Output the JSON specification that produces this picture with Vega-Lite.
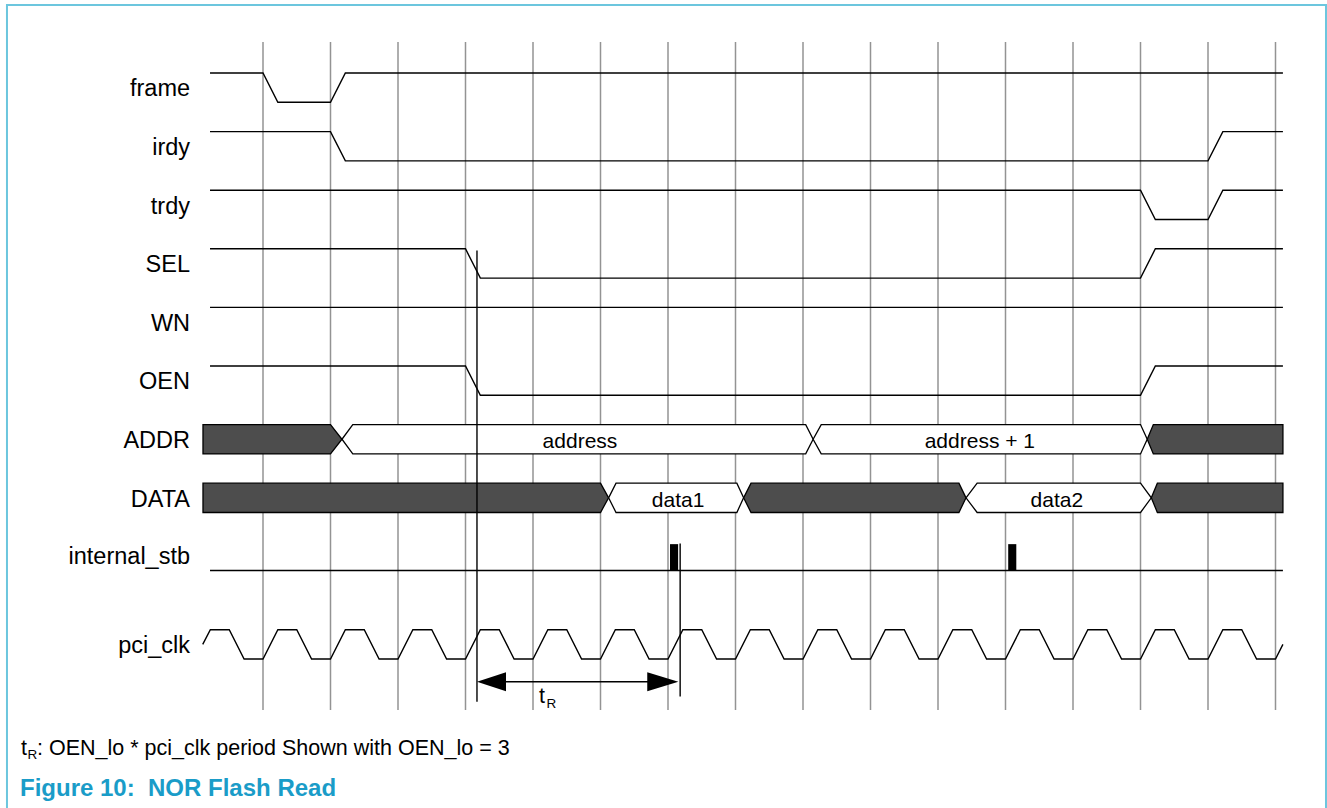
{
  "$schema": "https://vega.github.io/schema/vega-lite/v6.json",
  "width": 1327,
  "height": 808,
  "autosize": {"type": "fit", "contains": "padding"},
  "padding": 0,
  "background": "white",
  "config": {"view": {"stroke": null}, "text": {"font": "Liberation Sans", "color": "#000000"}},
  "encoding": {
    "x": {"field": "t", "type": "quantitative", "scale": {"domain": [-3.8963, 15.76296], "nice": false, "zero": false}, "axis": null},
    "y": {"field": "r", "type": "quantitative", "scale": {"domain": [-1.24573, 12.5427], "nice": false, "zero": false, "reverse": true}, "axis": null}
  },
  "layer": [
    {
      "data": {"values": [{"t": -3.793, "t2": 15.748, "r": -1.16, "r2": 12.7}]},
      "mark": {"type": "rect", "fill": "transparent", "stroke": "#6cc6de", "strokeWidth": 2, "clip": true},
      "encoding": {"x2": {"field": "t2"}, "y2": {"field": "r2"}}
    },
    {
      "data": {"values": [
        {"t": 0, "r": -0.53, "r2": 10.87}, {"t": 1, "r": -0.53, "r2": 10.87}, {"t": 2, "r": -0.53, "r2": 10.87}, {"t": 3, "r": -0.53, "r2": 10.87},
        {"t": 4, "r": -0.53, "r2": 10.87}, {"t": 5, "r": -0.53, "r2": 10.87}, {"t": 6, "r": -0.53, "r2": 10.87}, {"t": 7, "r": -0.53, "r2": 10.87},
        {"t": 8, "r": -0.53, "r2": 10.87}, {"t": 9, "r": -0.53, "r2": 10.87}, {"t": 10, "r": -0.53, "r2": 10.87}, {"t": 11, "r": -0.53, "r2": 10.87},
        {"t": 12, "r": -0.53, "r2": 10.87}, {"t": 13, "r": -0.53, "r2": 10.87}, {"t": 14, "r": -0.53, "r2": 10.87}, {"t": 15, "r": -0.53, "r2": 10.87}
      ]},
      "mark": {"type": "rule", "color": "#939393", "strokeWidth": 1.5},
      "encoding": {"y2": {"field": "r2"}}
    },
    {
      "data": {"values": [
        {"sig": "frame", "t": -0.785, "r": 0}, {"sig": "frame", "t": 0, "r": 0}, {"sig": "frame", "t": 0.22, "r": 0.5}, {"sig": "frame", "t": 1, "r": 0.5}, {"sig": "frame", "t": 1.22, "r": 0}, {"sig": "frame", "t": 15.11, "r": 0},
        {"sig": "irdy", "t": -0.785, "r": 1}, {"sig": "irdy", "t": 1, "r": 1}, {"sig": "irdy", "t": 1.22, "r": 1.5}, {"sig": "irdy", "t": 14, "r": 1.5}, {"sig": "irdy", "t": 14.22, "r": 1}, {"sig": "irdy", "t": 15.11, "r": 1},
        {"sig": "trdy", "t": -0.785, "r": 2}, {"sig": "trdy", "t": 13, "r": 2}, {"sig": "trdy", "t": 13.22, "r": 2.5}, {"sig": "trdy", "t": 14, "r": 2.5}, {"sig": "trdy", "t": 14.22, "r": 2}, {"sig": "trdy", "t": 15.11, "r": 2},
        {"sig": "SEL", "t": -0.785, "r": 3}, {"sig": "SEL", "t": 3, "r": 3}, {"sig": "SEL", "t": 3.22, "r": 3.5}, {"sig": "SEL", "t": 13, "r": 3.5}, {"sig": "SEL", "t": 13.22, "r": 3}, {"sig": "SEL", "t": 15.11, "r": 3},
        {"sig": "WN", "t": -0.785, "r": 4}, {"sig": "WN", "t": 15.11, "r": 4},
        {"sig": "OEN", "t": -0.785, "r": 5}, {"sig": "OEN", "t": 3, "r": 5}, {"sig": "OEN", "t": 3.22, "r": 5.5}, {"sig": "OEN", "t": 13, "r": 5.5}, {"sig": "OEN", "t": 13.22, "r": 5}, {"sig": "OEN", "t": 15.11, "r": 5},
        {"sig": "internal_stb", "t": -0.785, "r": 8.49}, {"sig": "internal_stb", "t": 15.11, "r": 8.49},
        {"sig": "pci_clk", "t": -0.893, "r": 9.75}, {"sig": "pci_clk", "t": -0.78, "r": 9.5}, {"sig": "pci_clk", "t": -0.5, "r": 9.5}, {"sig": "pci_clk", "t": -0.28, "r": 10}, {"sig": "pci_clk", "t": 0, "r": 10},
        {"sig": "pci_clk", "t": 0.22, "r": 9.5}, {"sig": "pci_clk", "t": 0.5, "r": 9.5}, {"sig": "pci_clk", "t": 0.72, "r": 10}, {"sig": "pci_clk", "t": 1, "r": 10},
        {"sig": "pci_clk", "t": 1.22, "r": 9.5}, {"sig": "pci_clk", "t": 1.5, "r": 9.5}, {"sig": "pci_clk", "t": 1.72, "r": 10}, {"sig": "pci_clk", "t": 2, "r": 10},
        {"sig": "pci_clk", "t": 2.22, "r": 9.5}, {"sig": "pci_clk", "t": 2.5, "r": 9.5}, {"sig": "pci_clk", "t": 2.72, "r": 10}, {"sig": "pci_clk", "t": 3, "r": 10},
        {"sig": "pci_clk", "t": 3.22, "r": 9.5}, {"sig": "pci_clk", "t": 3.5, "r": 9.5}, {"sig": "pci_clk", "t": 3.72, "r": 10}, {"sig": "pci_clk", "t": 4, "r": 10},
        {"sig": "pci_clk", "t": 4.22, "r": 9.5}, {"sig": "pci_clk", "t": 4.5, "r": 9.5}, {"sig": "pci_clk", "t": 4.72, "r": 10}, {"sig": "pci_clk", "t": 5, "r": 10},
        {"sig": "pci_clk", "t": 5.22, "r": 9.5}, {"sig": "pci_clk", "t": 5.5, "r": 9.5}, {"sig": "pci_clk", "t": 5.72, "r": 10}, {"sig": "pci_clk", "t": 6, "r": 10},
        {"sig": "pci_clk", "t": 6.22, "r": 9.5}, {"sig": "pci_clk", "t": 6.5, "r": 9.5}, {"sig": "pci_clk", "t": 6.72, "r": 10}, {"sig": "pci_clk", "t": 7, "r": 10},
        {"sig": "pci_clk", "t": 7.22, "r": 9.5}, {"sig": "pci_clk", "t": 7.5, "r": 9.5}, {"sig": "pci_clk", "t": 7.72, "r": 10}, {"sig": "pci_clk", "t": 8, "r": 10},
        {"sig": "pci_clk", "t": 8.22, "r": 9.5}, {"sig": "pci_clk", "t": 8.5, "r": 9.5}, {"sig": "pci_clk", "t": 8.72, "r": 10}, {"sig": "pci_clk", "t": 9, "r": 10},
        {"sig": "pci_clk", "t": 9.22, "r": 9.5}, {"sig": "pci_clk", "t": 9.5, "r": 9.5}, {"sig": "pci_clk", "t": 9.72, "r": 10}, {"sig": "pci_clk", "t": 10, "r": 10},
        {"sig": "pci_clk", "t": 10.22, "r": 9.5}, {"sig": "pci_clk", "t": 10.5, "r": 9.5}, {"sig": "pci_clk", "t": 10.72, "r": 10}, {"sig": "pci_clk", "t": 11, "r": 10},
        {"sig": "pci_clk", "t": 11.22, "r": 9.5}, {"sig": "pci_clk", "t": 11.5, "r": 9.5}, {"sig": "pci_clk", "t": 11.72, "r": 10}, {"sig": "pci_clk", "t": 12, "r": 10},
        {"sig": "pci_clk", "t": 12.22, "r": 9.5}, {"sig": "pci_clk", "t": 12.5, "r": 9.5}, {"sig": "pci_clk", "t": 12.72, "r": 10}, {"sig": "pci_clk", "t": 13, "r": 10},
        {"sig": "pci_clk", "t": 13.22, "r": 9.5}, {"sig": "pci_clk", "t": 13.5, "r": 9.5}, {"sig": "pci_clk", "t": 13.72, "r": 10}, {"sig": "pci_clk", "t": 14, "r": 10},
        {"sig": "pci_clk", "t": 14.22, "r": 9.5}, {"sig": "pci_clk", "t": 14.5, "r": 9.5}, {"sig": "pci_clk", "t": 14.72, "r": 10}, {"sig": "pci_clk", "t": 15, "r": 10},
        {"sig": "pci_clk", "t": 15.11, "r": 9.75}
      ]},
      "mark": {"type": "line", "color": "#000000", "strokeWidth": 1.4},
      "encoding": {"detail": {"field": "sig"}}
    },
    {
      "data": {"values": [
        {"seg": "A1", "state": "undefined", "t": -0.889, "r": 6, "r2": 6.5}, {"seg": "A1", "state": "undefined", "t": 1.0, "r": 6, "r2": 6.5}, {"seg": "A1", "state": "undefined", "t": 1.17, "r": 6.25, "r2": 6.25},
        {"seg": "A2", "state": "valid", "t": 1.17, "r": 6.25, "r2": 6.25}, {"seg": "A2", "state": "valid", "t": 1.33, "r": 6, "r2": 6.5}, {"seg": "A2", "state": "valid", "t": 8.04, "r": 6, "r2": 6.5}, {"seg": "A2", "state": "valid", "t": 8.15, "r": 6.25, "r2": 6.25},
        {"seg": "A3", "state": "valid", "t": 8.15, "r": 6.25, "r2": 6.25}, {"seg": "A3", "state": "valid", "t": 8.27, "r": 6, "r2": 6.5}, {"seg": "A3", "state": "valid", "t": 13.0, "r": 6, "r2": 6.5}, {"seg": "A3", "state": "valid", "t": 13.1, "r": 6.25, "r2": 6.25},
        {"seg": "A4", "state": "undefined", "t": 13.1, "r": 6.25, "r2": 6.25}, {"seg": "A4", "state": "undefined", "t": 13.19, "r": 6, "r2": 6.5}, {"seg": "A4", "state": "undefined", "t": 15.11, "r": 6, "r2": 6.5},
        {"seg": "D1", "state": "undefined", "t": -0.889, "r": 7, "r2": 7.5}, {"seg": "D1", "state": "undefined", "t": 5.0, "r": 7, "r2": 7.5}, {"seg": "D1", "state": "undefined", "t": 5.12, "r": 7.25, "r2": 7.25},
        {"seg": "D2", "state": "valid", "t": 5.12, "r": 7.25, "r2": 7.25}, {"seg": "D2", "state": "valid", "t": 5.23, "r": 7, "r2": 7.5}, {"seg": "D2", "state": "valid", "t": 7.02, "r": 7, "r2": 7.5}, {"seg": "D2", "state": "valid", "t": 7.12, "r": 7.25, "r2": 7.25},
        {"seg": "D3", "state": "undefined", "t": 7.12, "r": 7.25, "r2": 7.25}, {"seg": "D3", "state": "undefined", "t": 7.23, "r": 7, "r2": 7.5}, {"seg": "D3", "state": "undefined", "t": 10.31, "r": 7, "r2": 7.5}, {"seg": "D3", "state": "undefined", "t": 10.415, "r": 7.25, "r2": 7.25},
        {"seg": "D4", "state": "valid", "t": 10.415, "r": 7.25, "r2": 7.25}, {"seg": "D4", "state": "valid", "t": 10.58, "r": 7, "r2": 7.5}, {"seg": "D4", "state": "valid", "t": 13.0, "r": 7, "r2": 7.5}, {"seg": "D4", "state": "valid", "t": 13.16, "r": 7.25, "r2": 7.25},
        {"seg": "D5", "state": "undefined", "t": 13.16, "r": 7.25, "r2": 7.25}, {"seg": "D5", "state": "undefined", "t": 13.25, "r": 7, "r2": 7.5}, {"seg": "D5", "state": "undefined", "t": 15.11, "r": 7, "r2": 7.5}
      ]},
      "mark": {"type": "area", "stroke": "#000000", "strokeWidth": 1.3, "opacity": 1, "fillOpacity": 1, "orient": "vertical"},
      "encoding": {
        "y2": {"field": "r2"},
        "color": {"field": "state", "type": "nominal", "scale": {"domain": ["undefined", "valid"], "range": ["#4d4d4d", "#ffffff"]}, "legend": null},
        "detail": {"field": "seg"}
      }
    },
    {
      "data": {"values": [
        {"t": 6.03, "t2": 6.15, "r": 8.04, "r2": 8.49},
        {"t": 11.04, "t2": 11.16, "r": 8.04, "r2": 8.49}
      ]},
      "mark": {"type": "rect", "color": "#000000"},
      "encoding": {"x2": {"field": "t2"}, "y2": {"field": "r2"}}
    },
    {
      "data": {"values": [
        {"t": 3.17, "r": 3.03, "r2": 10.73},
        {"t": 6.18, "r": 8.03, "r2": 10.64}
      ]},
      "mark": {"type": "rule", "color": "#000000", "strokeWidth": 1.4},
      "encoding": {"y2": {"field": "r2"}}
    },
    {
      "data": {"values": [{"t": 3.4, "t2": 5.9, "r": 10.387}]},
      "mark": {"type": "rule", "color": "#000000", "strokeWidth": 1.4},
      "encoding": {"x2": {"field": "t2"}}
    },
    {
      "data": {"values": [
        {"id": "left", "t": 3.17, "r": 10.387, "r2": 10.387}, {"id": "left", "t": 3.6, "r": 10.225, "r2": 10.549},
        {"id": "right", "t": 5.693, "r": 10.225, "r2": 10.549}, {"id": "right", "t": 6.153, "r": 10.387, "r2": 10.387}
      ]},
      "mark": {"type": "area", "color": "#000000", "opacity": 1, "orient": "vertical"},
      "encoding": {"y2": {"field": "r2"}, "detail": {"field": "id"}}
    },
    {
      "data": {"values": [
        {"label": "frame", "t": -1.081, "r": 0.40},
        {"label": "irdy", "t": -1.081, "r": 1.40},
        {"label": "trdy", "t": -1.081, "r": 2.40},
        {"label": "SEL", "t": -1.081, "r": 3.40},
        {"label": "WN", "t": -1.081, "r": 4.40},
        {"label": "OEN", "t": -1.081, "r": 5.40},
        {"label": "ADDR", "t": -1.081, "r": 6.40},
        {"label": "DATA", "t": -1.081, "r": 7.40},
        {"label": "internal_stb", "t": -1.081, "r": 8.38},
        {"label": "pci_clk", "t": -1.081, "r": 9.90}
      ]},
      "mark": {"type": "text", "align": "right", "baseline": "alphabetic", "fontSize": 23.5},
      "encoding": {"text": {"field": "label"}}
    },
    {
      "data": {"values": [
        {"label": "address", "t": 4.696, "r": 6.40},
        {"label": "address + 1", "t": 10.62, "r": 6.40},
        {"label": "data1", "t": 6.15, "r": 7.40},
        {"label": "data2", "t": 11.76, "r": 7.40}
      ]},
      "mark": {"type": "text", "align": "center", "baseline": "alphabetic", "fontSize": 21},
      "encoding": {"text": {"field": "label"}}
    },
    {
      "data": {"values": [
        {"label": "t", "t": 4.09, "r": 10.75},
        {"label": "t", "t": -3.585, "r": 11.64},
        {"label": ": OEN_lo * pci_clk period Shown with OEN_lo = 3", "t": -3.348, "r": 11.64}
      ]},
      "mark": {"type": "text", "align": "left", "baseline": "alphabetic", "fontSize": 21.5},
      "encoding": {"text": {"field": "label"}}
    },
    {
      "data": {"values": [
        {"label": "R", "t": 4.2, "r": 10.84},
        {"label": "R", "t": -3.489, "r": 11.71}
      ]},
      "mark": {"type": "text", "align": "left", "baseline": "alphabetic", "fontSize": 13.5},
      "encoding": {"text": {"field": "label"}}
    },
    {
      "data": {"values": [
        {"label": "Figure 10:\u00a0 NOR Flash Read", "t": -3.6, "r": 12.33}
      ]},
      "mark": {"type": "text", "align": "left", "baseline": "alphabetic", "fontSize": 24, "fontWeight": "bold", "color": "#1a9cc8"},
      "encoding": {"text": {"field": "label"}}
    }
  ]
}
